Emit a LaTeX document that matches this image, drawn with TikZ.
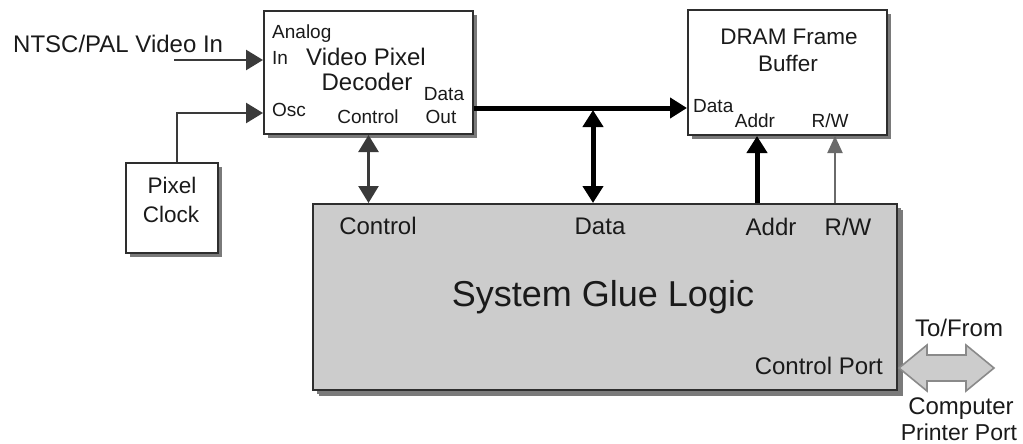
\documentclass[tikz,border=0pt]{standalone}
\usepackage{fontspec}
\setmainfont{Liberation Sans}
\usetikzlibrary{arrows.meta,shadows}

\definecolor{ink}{HTML}{1A1A1A}
\definecolor{edge}{HTML}{2E2E2E}
\definecolor{shade}{HTML}{7A7A7A}
\definecolor{panel}{HTML}{CCCCCC}
\definecolor{wire}{HTML}{3A3A3A}
\definecolor{thinwire}{HTML}{6A6A6A}
\definecolor{portedge}{HTML}{8A8A8A}

\tikzset{
  box/.style={draw=edge, line width=2pt, fill=white, inner sep=0pt, anchor=north west,
    drop shadow={shadow xshift=4pt, shadow yshift=-4pt, fill=shade, opacity=1}},
  gluebox/.style={box, fill=panel,
    drop shadow={shadow xshift=6pt, shadow yshift=-6pt, fill=shade, opacity=1}},
  small/.style={font=\fontsize{19}{22}\selectfont, text=ink, inner sep=0pt},
  mid/.style={font=\fontsize{22.5}{26}\selectfont, text=ink, inner sep=0pt},
  big/.style={font=\fontsize{24}{28}\selectfont, text=ink, inner sep=0pt},
  title/.style={font=\fontsize{36}{40}\selectfont, text=ink, inner sep=0pt},
  wire/.style={draw=wire, line width=2.6pt},
  thin/.style={draw=thinwire, line width=2pt},
  bus/.style={draw=black, line width=5pt},
  tip/.tip={Triangle[length=17pt,width=20pt]},
  smalltip/.tip={Triangle[length=17pt,width=15pt]},
  port/.style={draw=portedge, line width=1.6pt, fill=panel, line join=miter},
}

\begin{document}
\begin{tikzpicture}[x=1pt,y=-1pt]
\useasboundingbox (0,0) rectangle (1023,444);

% blocks
\node[box, minimum width=209pt, minimum height=123pt] (vpd) at (263,10) {};
\node[box, minimum width=199pt, minimum height=125pt] (dram) at (687,9) {};
\node[box, minimum width=92pt, minimum height=90pt] (clk) at (125,162) {};
\node[gluebox, minimum width=584pt, minimum height=186pt] (glue) at (312,203) {};

% video pixel decoder texts
\node[small, anchor=base west] (tAnalog) at (272,39) {Analog};
\node[small, anchor=base west] (tIn) at (272,65) {In};
\node[big, anchor=base] (tVideo) at (366,66) {Video Pixel};
\node[big, anchor=base] (tDecoder) at (367,90) {Decoder};
\node[small, anchor=base west] (tOsc) at (272,117) {Osc};
\node[small, anchor=base] (tCtlA) at (368,123) {Control};
\node[small, anchor=base] (tDataA) at (444,100) {Data};
\node[small, anchor=base] (tOut) at (441,123) {Out};

% frame buffer texts
\node[mid, anchor=base] (tDram) at (789,45) {DRAM Frame};
\node[mid, anchor=base] (tBuffer) at (788,72) {Buffer};
\node[small, anchor=base west] (tDataB) at (693,113) {Data};
\node[small, anchor=base] (tAddrB) at (755,128) {Addr};
\node[small, anchor=base] (tRWB) at (830,128) {R/W};

% clock texts
\node[mid, anchor=base] (tPixel) at (172,193) {Pixel};
\node[mid, anchor=base] (tClock) at (171,222) {Clock};

% glue logic texts
\node[big, anchor=base] (tCtlG) at (378,234) {Control};
\node[big, anchor=base] (tDataG) at (600,234) {Data};
\node[big, anchor=base] (tAddrG) at (771,235) {Addr};
\node[big, anchor=base] (tRWG) at (848,235) {R/W};
\node[title, anchor=base] (tGlue) at (603,306) {System Glue Logic};
\node[big, anchor=base east] (tPort) at (883,374) {Control Port};

% outside texts
\node[big, anchor=base west] (tVin) at (13,53) {NTSC/PAL Video In};
\node[big, anchor=base] (tTo) at (959,336) {To/From};
\node[big, anchor=base] (tComp) at (961,414) {Computer};
\node[font=\fontsize{23}{27}\selectfont, text=ink, inner sep=0pt, anchor=base] (tPrn) at (959,440) {Printer Port};

% connectors
\coordinate (vin) at (174,60);
\draw[wire, -tip] (vin) -- (vin -| vpd.west);
\draw[wire, -tip] ([xshift=5pt]clk.north) |- (vpd.west |- 0,113);
\draw[wire, tip-tip] (vpd.south) -- (glue.north -| vpd.south);

\coordinate (busstart) at (vpd.east |- 0,108);
\coordinate (tap) at (593,108);
\draw[bus, -tip] (busstart) -- (busstart -| dram.west);
\draw[bus, tip-tip] ([yshift=-2pt]tap) -- (glue.north -| tap);

\coordinate (addrx) at (757,0);
\coordinate (rwx) at (835,0);
\draw[bus, -tip] (glue.north -| addrx) -- (dram.south -| addrx);
\draw[thin, -smalltip] (glue.north -| rwx) -- (dram.south -| rwx);

% printer port double arrow
\coordinate (cp) at (glue.east |- 0,368);
\draw[port] ([xshift=1pt]cp) -- ++(28,-23) -- ++(0,10) -- ++(39,0) -- ++(0,-10)
  -- ++(28,23) -- ++(-28,23) -- ++(0,-10) -- ++(-39,0) -- ++(0,10) -- cycle;
\end{tikzpicture}
\end{document}
